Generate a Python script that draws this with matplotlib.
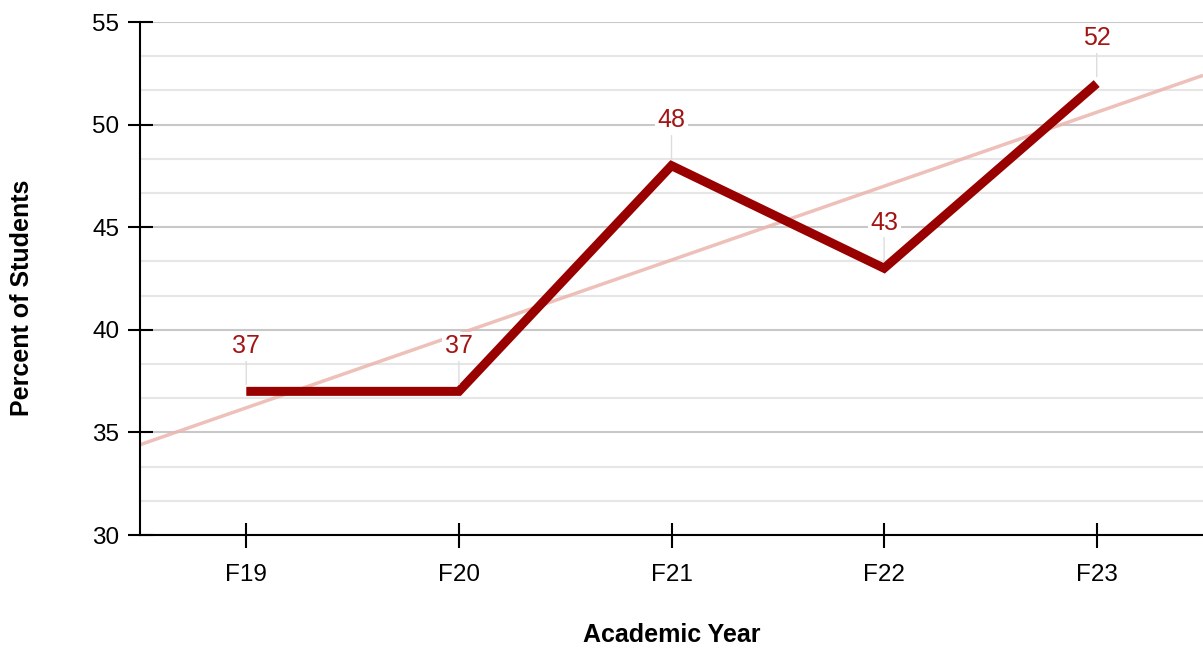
import numpy as np
import matplotlib.pyplot as plt
from matplotlib.ticker import MultipleLocator

plt.rcParams['font.family'] = ['Liberation Sans', 'DejaVu Sans']

# data
years = ['F19', 'F20', 'F21', 'F22', 'F23']
percent = [37, 37, 48, 43, 52]

x = np.arange(len(years))
y = np.array(percent, dtype=float)

fig = plt.figure(figsize=(12.03, 6.48), dpi=100)
ax = fig.add_axes([140 / 1203, 113 / 648, 1 - 140 / 1203, (535 - 22) / 648])

ax.set_xlim(-0.5, len(years) - 0.5)
ax.set_ylim(30, 55)

# grid
ax.yaxis.set_major_locator(MultipleLocator(5))
ax.yaxis.set_minor_locator(MultipleLocator(5 / 3))
ax.grid(True, axis='y', which='major', color='#c8c8c8', linewidth=1.5, zorder=0)
ax.grid(True, axis='y', which='minor', color='#e6e6e6', linewidth=1.5, zorder=0)
ax.set_axisbelow(True)

# trend line (least squares fit over the data)
m, b = np.polyfit(x, y, 1)
xt = np.array([-0.5, len(years) - 0.5])
ax.plot(xt, m * xt + b, color='#eab5ae', linewidth=2.5, alpha=0.85, zorder=2,
        solid_capstyle='butt')

# main line
ax.plot(x, y, color='#990000', linewidth=6.5, zorder=3,
        solid_capstyle='butt', solid_joinstyle='miter')

# value labels
for xi, yi in zip(x, y):
    ax.annotate(f'{int(yi)}', xy=(xi, yi), xytext=(0, 24), textcoords='offset points',
                ha='center', va='bottom', fontsize=18, color='#a31515', zorder=4,
                bbox=dict(boxstyle='square,pad=0.1', fc='white', ec='none'),
                arrowprops=dict(arrowstyle='-', color='#dddddd', lw=1,
                                shrinkA=0, shrinkB=5))

ax.set_xticks(x)
ax.set_xticklabels(years)
ax.tick_params(axis='both', which='major', direction='inout', length=18, width=1.5,
               labelsize=17.5, colors='black', pad=6)
ax.tick_params(axis='y', which='minor', length=0)
ax.tick_params(axis='x', pad=12)

for side in ['top', 'right']:
    ax.spines[side].set_visible(False)
for side in ['left', 'bottom']:
    ax.spines[side].set_linewidth(1.5)
    ax.spines[side].set_color('black')

fig.text(672 / 1203, 1 - 635 / 648, 'Academic Year', ha='center', va='center',
         fontsize=18, fontweight='bold')
fig.text(22 / 1203, 1 - 298 / 648, 'Percent of Students', ha='center', va='center',
         rotation=90, fontsize=18, fontweight='bold')

fig.savefig('out.png', dpi=100)
